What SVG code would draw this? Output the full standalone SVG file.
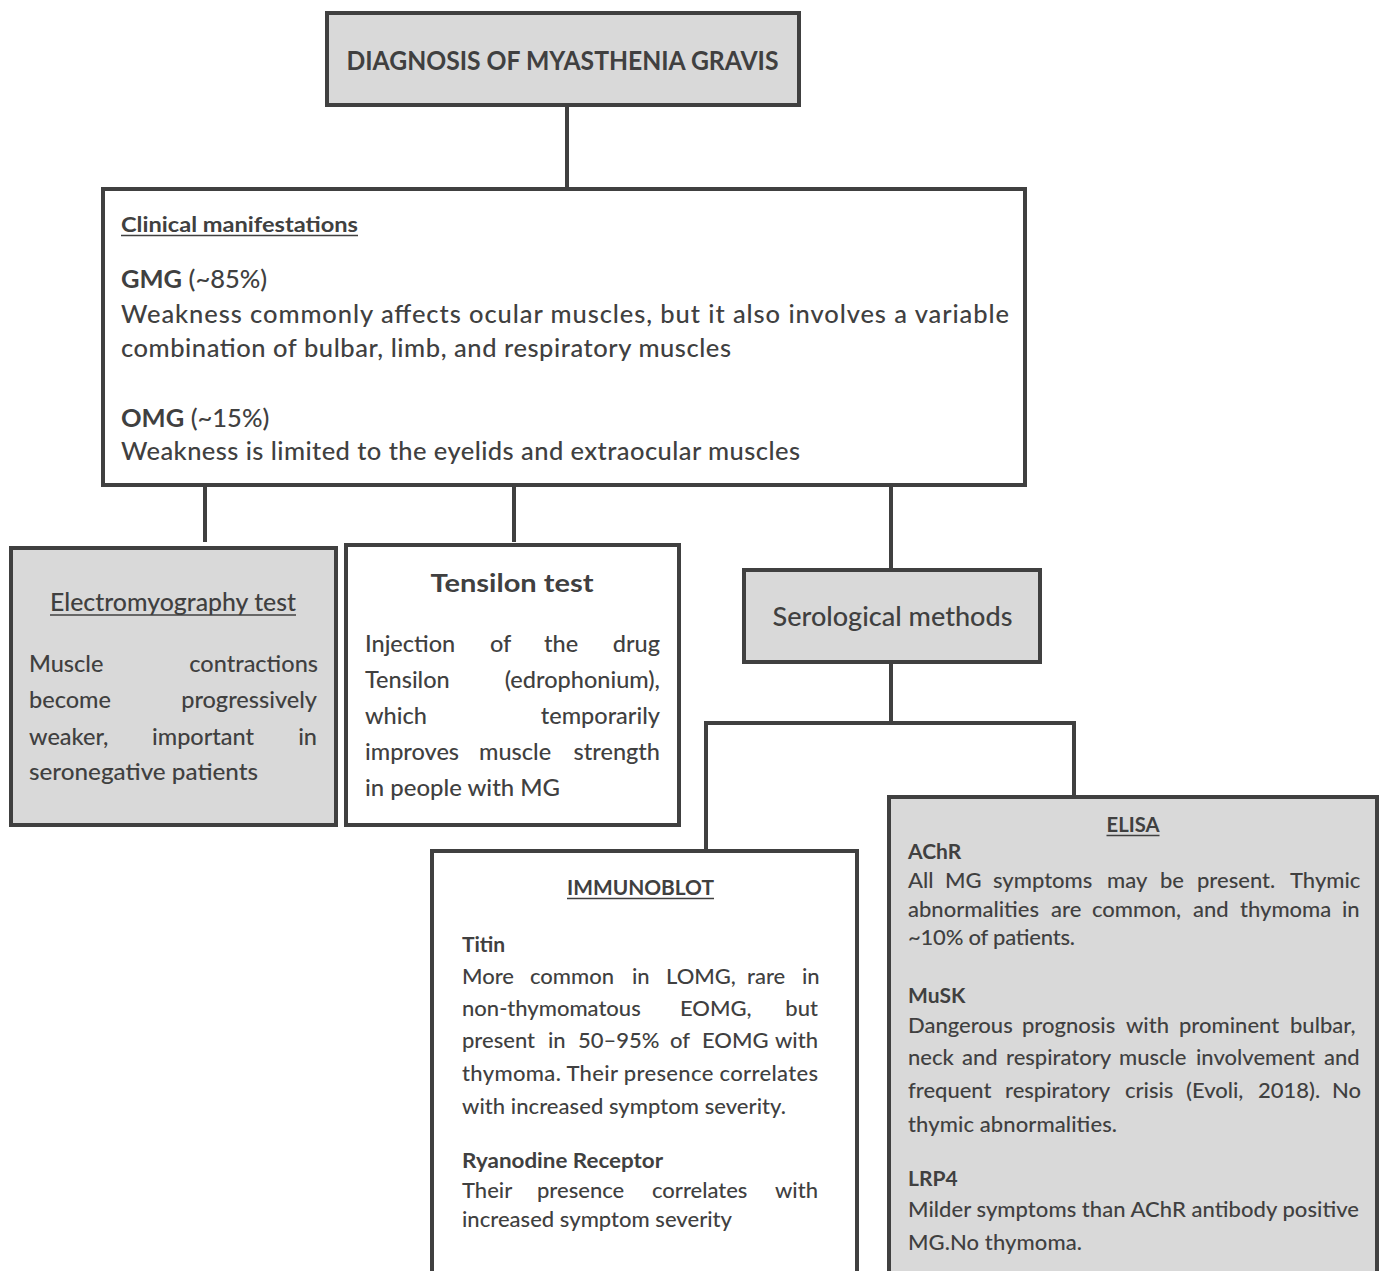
<svg xmlns="http://www.w3.org/2000/svg" width="1381" height="1271" viewBox="0 0 1381 1271">
<style>
.box{stroke:#404040;stroke-width:4}
.g{fill:#d9d9d9}
.w{fill:#ffffff}
text{font-family:Lato,"Open Sans","Liberation Sans",sans-serif;fill:#404040;font-weight:500}
.b{font-weight:700}
.ul{stroke:#404040;stroke-width:1.6}
.c{stroke:#404040;stroke-width:4;fill:none}
.s24{font-size:25.5px}
.s23{font-size:23.5px}
.s20{font-size:22px}
.h20{font-size:21px}
</style>
<rect x="0" y="0" width="1381" height="1271" fill="#ffffff"/>
<g id="connectors">
<line class="c" x1="567" y1="104" x2="567" y2="190"/>
<line class="c" x1="205" y1="485" x2="205" y2="542"/>
<line class="c" x1="514" y1="485" x2="514" y2="542"/>
<line class="c" x1="891" y1="485" x2="891" y2="571"/>
<line class="c" x1="891" y1="662" x2="891" y2="723"/>
<polyline class="c" points="706,852 706,723 1074,723 1074,797"/>
</g>
<g id="title">
<rect class="box g" x="327" y="13" width="472" height="92"/>
<text class="b" x="562.5" y="70" font-size="26" text-anchor="middle" textLength="432" lengthAdjust="spacingAndGlyphs">DIAGNOSIS OF MYASTHENIA GRAVIS</text>
</g>
<g id="clinical">
<rect class="box w" x="103" y="189" width="922" height="296"/>
<text class="b" x="121" y="232" font-size="21" textLength="237" lengthAdjust="spacingAndGlyphs">Clinical manifestations</text>
<line class="ul" x1="121" y1="235.5" x2="358" y2="235.5"/>
<text x="121" y="288" font-size="25.5"><tspan class="b">GMG</tspan> (~85%)</text>
<text class="s24" x="121" y="323" textLength="888" lengthAdjust="spacing">Weakness commonly affects ocular muscles, but it also involves a variable</text>
<text class="s24" x="121" y="357" textLength="610" lengthAdjust="spacing">combination of bulbar, limb, and respiratory muscles</text>
<text x="121" y="427" font-size="25.5"><tspan class="b">OMG</tspan> (~15%)</text>
<text class="s24" x="121" y="460" textLength="679" lengthAdjust="spacing">Weakness is limited to the eyelids and extraocular muscles</text>
</g>
<g id="emg">
<rect class="box g" x="11" y="548" width="325" height="277"/>
<text x="173" y="611" font-size="24" text-anchor="middle" textLength="246" lengthAdjust="spacingAndGlyphs">Electromyography test</text>
<line class="ul" x1="50" y1="615" x2="296" y2="615"/>
<text class="s23" x="29" y="672">Muscle</text>
<text class="s23" x="318" y="672" text-anchor="end">contractions</text>
<text class="s23" x="29" y="708">become</text>
<text class="s23" x="317" y="708" text-anchor="end">progressively</text>
<text class="s23" x="29" y="745">weaker,</text>
<text class="s23" x="152" y="745">important</text>
<text class="s23" x="317" y="745" text-anchor="end">in</text>
<text class="s23" x="29" y="780" textLength="229" lengthAdjust="spacingAndGlyphs">seronegative patients</text>
</g>
<g id="tensilon">
<rect class="box w" x="346" y="545" width="333" height="280"/>
<text class="b" x="512" y="592" font-size="25" text-anchor="middle" textLength="163" lengthAdjust="spacingAndGlyphs">Tensilon test</text>
<text class="s23" x="365" y="652">Injection</text>
<text class="s23" x="490" y="652">of</text>
<text class="s23" x="544" y="652">the</text>
<text class="s23" x="660" y="652" text-anchor="end">drug</text>
<text class="s23" x="365" y="688">Tensilon</text>
<text class="s23" x="660" y="688" text-anchor="end">(edrophonium),</text>
<text class="s23" x="365" y="724">which</text>
<text class="s23" x="660" y="724" text-anchor="end">temporarily</text>
<text class="s23" x="365" y="760">improves</text>
<text class="s23" x="479" y="760">muscle</text>
<text class="s23" x="660" y="760" text-anchor="end">strength</text>
<text class="s23" x="365" y="796" textLength="195" lengthAdjust="spacingAndGlyphs">in people with MG</text>
</g>
<g id="serological">
<rect class="box g" x="744" y="570" width="296" height="92"/>
<text x="892.5" y="626" font-size="26" text-anchor="middle" textLength="240" lengthAdjust="spacingAndGlyphs">Serological methods</text>
</g>
<g id="immunoblot">
<rect class="box w" x="432" y="851" width="425" height="440"/>
<text class="b" x="640.5" y="895" font-size="21" text-anchor="middle" textLength="147" lengthAdjust="spacingAndGlyphs">IMMUNOBLOT</text>
<line class="ul" x1="567" y1="898.5" x2="714" y2="898.5"/>
<text class="b h20" x="462" y="952">Titin</text>
<text class="s20" y="984"><tspan x="462">More</tspan><tspan x="530">common</tspan><tspan x="632">in</tspan><tspan x="666">LOMG,</tspan><tspan x="747">rare</tspan><tspan x="802">in</tspan></text>
<text class="s20" x="462" y="1016">non-thymomatous</text>
<text class="s20" x="680" y="1016">EOMG,</text>
<text class="s20" x="818" y="1016" text-anchor="end">but</text>
<text class="s20" y="1048"><tspan x="462">present</tspan><tspan x="548">in</tspan><tspan x="578">50–95%</tspan><tspan x="670">of</tspan><tspan x="702">EOMG</tspan><tspan x="775">with</tspan></text>
<text class="s20" x="462" y="1081" textLength="356" lengthAdjust="spacing">thymoma. Their presence correlates</text>
<text class="s20" x="462" y="1114" textLength="324" lengthAdjust="spacing">with increased symptom severity.</text>
<text class="b h20" x="462" y="1168" textLength="201" lengthAdjust="spacingAndGlyphs">Ryanodine Receptor</text>
<text class="s20" x="462" y="1198">Their</text>
<text class="s20" x="537" y="1198">presence</text>
<text class="s20" x="652" y="1198">correlates</text>
<text class="s20" x="818" y="1198" text-anchor="end">with</text>
<text class="s20" x="462" y="1227" textLength="270" lengthAdjust="spacing">increased symptom severity</text>
</g>
<g id="elisa">
<rect class="box g" x="889" y="797" width="488" height="494"/>
<text class="b h20" x="1133" y="832" text-anchor="middle" textLength="53" lengthAdjust="spacingAndGlyphs">ELISA</text>
<line class="ul" x1="1106.5" y1="835.5" x2="1159.5" y2="835.5"/>
<text class="b h20" x="908" y="859">AChR</text>
<text class="s20" y="888"><tspan x="908">All</tspan><tspan x="945">MG</tspan><tspan x="993">symptoms</tspan><tspan x="1107">may</tspan><tspan x="1160">be</tspan><tspan x="1197">present.</tspan><tspan x="1290">Thymic</tspan></text>
<text class="s20" y="917"><tspan x="908">abnormalities</tspan><tspan x="1051">are</tspan><tspan x="1092">common,</tspan><tspan x="1193">and</tspan><tspan x="1240">thymoma</tspan><tspan x="1342">in</tspan></text>
<text class="s20" x="908" y="945" textLength="167" lengthAdjust="spacing">~10% of patients.</text>
<text class="b h20" x="908" y="1003">MuSK</text>
<text class="s20" y="1033"><tspan x="908">Dangerous</tspan><tspan x="1022">prognosis</tspan><tspan x="1126">with</tspan><tspan x="1179">prominent</tspan><tspan x="1290">bulbar,</tspan></text>
<text class="s20" y="1065"><tspan x="908">neck</tspan><tspan x="962">and</tspan><tspan x="1006">respiratory</tspan><tspan x="1119">muscle</tspan><tspan x="1196">involvement</tspan><tspan x="1324">and</tspan></text>
<text class="s20" y="1098"><tspan x="908">frequent</tspan><tspan x="1005">respiratory</tspan><tspan x="1125">crisis</tspan><tspan x="1186">(Evoli,</tspan><tspan x="1258">2018).</tspan><tspan x="1332">No</tspan></text>
<text class="s20" x="908" y="1132" textLength="209" lengthAdjust="spacing">thymic abnormalities.</text>
<text class="b h20" x="908" y="1186">LRP4</text>
<text class="s20" x="908" y="1217" textLength="451" lengthAdjust="spacing">Milder symptoms than AChR antibody positive</text>
<text class="s20" x="908" y="1250" textLength="174" lengthAdjust="spacing">MG.No thymoma.</text>
</g>
</svg>
